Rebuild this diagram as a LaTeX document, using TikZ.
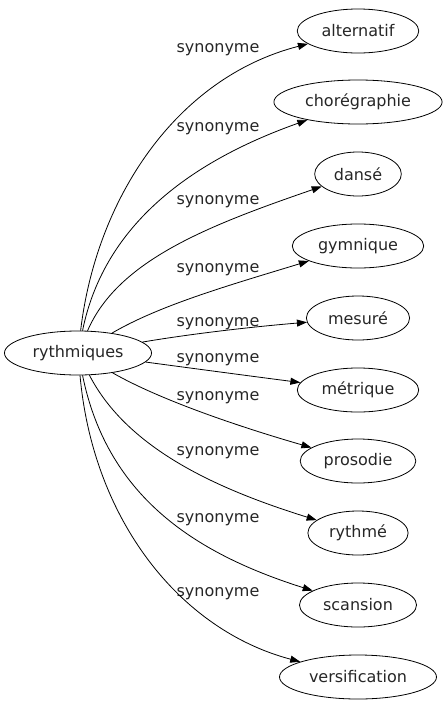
\documentclass[tikz,border=0pt]{standalone}
\usepackage{fontspec}
\setmainfont{DejaVu Sans}
\usetikzlibrary{shapes.geometric,arrows.meta}
\begin{document}
\begin{tikzpicture}[x=1pt,y=-1pt,
  word/.style={ellipse,draw,line width=0.8pt,inner xsep=6.5pt,inner ysep=2pt,minimum height=44pt,font=\fontsize{16}{19}\selectfont,text=black!85},
  lbl/.style={font=\fontsize{16}{19}\selectfont,text=black!85,inner sep=0pt},
  edge/.style={line width=0.8pt,-{Triangle[length=10pt,width=7pt]}}]
\useasboundingbox (0,0) rectangle (446,707);
\node[word] (src) at (78,353) {rythmiques};
\node[word] (t1) at (358,31) {alternatif};
\node[word] (t2) at (358,102) {chorégraphie};
\node[word] (t3) at (358,174) {dansé};
\node[word] (t4) at (358,246) {gymnique};
\node[word] (t5) at (358,318) {mesuré};
\node[word] (t6) at (358,390) {métrique};
\node[word] (t7) at (358,461) {prosodie};
\node[word] (t8) at (358,533) {rythmé};
\node[word] (t9) at (358,605) {scansion};
\node[word] (t10) at (358,677) {versification};
\node[lbl] (l1) at (218,50) {synonyme};
\node[lbl] (l2) at (218,129) {synonyme};
\node[lbl] (l3) at (218,202) {synonyme};
\node[lbl] (l4) at (218,270) {synonyme};
\node[lbl] (l5) at (218,324) {synonyme};
\node[lbl] (l6) at (218,360) {synonyme};
\node[lbl] (l7) at (218,398) {synonyme};
\node[lbl] (l8) at (218,453) {synonyme};
\node[lbl] (l9) at (218,520) {synonyme};
\node[lbl] (l10) at (218,594) {synonyme};
\draw[edge] (src) .. controls (96,200) and (175,78) .. (t1);
\draw[edge] (src) .. controls (103,230) and (183,164) .. (t2);
\draw[edge] (src) .. controls (118,260) and (210,225) .. (t3);
\draw[edge] (src) .. controls (160,305) and (230,285) .. (t4);
\draw[edge] (src) .. controls (190,334) and (250,327) .. (t5);
\draw[edge] (src) .. controls (190,368) and (250,376) .. (t6);
\draw[edge] (src) .. controls (160,400) and (240,427) .. (t7);
\draw[edge] (src) .. controls (128,450) and (220,490) .. (t8);
\draw[edge] (src) .. controls (108,500) and (200,555) .. (t9);
\draw[edge] (src) .. controls (93,520) and (180,630) .. (t10);
\end{tikzpicture}
\end{document}
